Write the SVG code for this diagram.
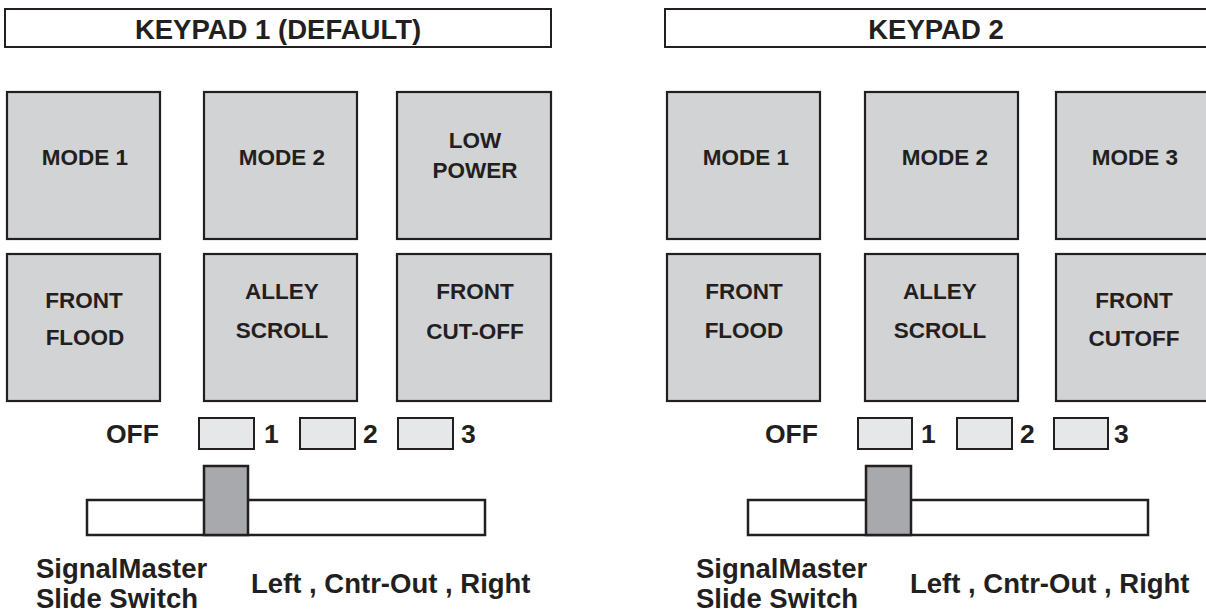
<svg xmlns="http://www.w3.org/2000/svg" width="1206" height="612" viewBox="0 0 1206 612">
<style>
.hdr{fill:#fff;stroke:#231f20;stroke-width:2}
.key{fill:#d1d3d4;stroke:#231f20;stroke-width:2.2}
.ind{fill:#e6e7e8;stroke:#231f20;stroke-width:2}
.bar{fill:#fff;stroke:#231f20;stroke-width:2.5}
.knob{fill:#a7a9ac;stroke:#231f20;stroke-width:2.5}
text{font-family:"Liberation Sans",Arial,sans-serif;font-weight:bold;fill:#231f20}
.kt{font-size:22.5px;text-anchor:middle}
.ht{font-size:27.5px;text-anchor:middle}
.lt{font-size:26.5px}
.st{font-size:27.5px}
</style>
<g id="keypad1">
<g id="k1-header"><rect class="hdr" x="5" y="9" width="546" height="38"/><text class="ht" x="278" y="39">KEYPAD 1 (DEFAULT)</text></g>
<g id="k1-mode1"><rect class="key" x="7" y="92" width="153" height="147"/><text class="kt" x="85" y="165">MODE 1</text></g>
<g id="k1-mode2"><rect class="key" x="204" y="92" width="153" height="147"/><text class="kt" x="282" y="165">MODE 2</text></g>
<g id="k1-lowpower"><rect class="key" x="397" y="92" width="154" height="147"/><text class="kt" x="475" y="148">LOW</text><text class="kt" x="475" y="178">POWER</text></g>
<g id="k1-frontflood"><rect class="key" x="7" y="254" width="153" height="147"/><text class="kt" x="84" y="308">FRONT</text><text class="kt" x="85" y="345">FLOOD</text></g>
<g id="k1-alleyscroll"><rect class="key" x="204" y="254" width="153" height="147"/><text class="kt" x="282" y="299">ALLEY</text><text class="kt" x="282" y="338">SCROLL</text></g>
<g id="k1-frontcutoff"><rect class="key" x="397" y="254" width="154" height="147"/><text class="kt" x="475" y="299">FRONT</text><text class="kt" x="475" y="339">CUT-OFF</text></g>
<g id="k1-switch">
<text class="lt" x="106" y="443">OFF</text>
<rect class="ind" x="199" y="418" width="55" height="31"/><text class="lt" x="264" y="443">1</text>
<rect class="ind" x="300" y="418" width="55" height="31"/><text class="lt" x="363" y="443">2</text>
<rect class="ind" x="398" y="418" width="55" height="31"/><text class="lt" x="461" y="443">3</text>
<rect class="bar" x="87" y="500" width="398" height="35"/>
<rect class="knob" x="204" y="466" width="44" height="69"/>
<text class="st" x="36" y="578">SignalMaster</text>
<text class="st" x="36" y="608">Slide Switch</text>
<text class="st" x="251" y="593">Left , Cntr-Out , Right</text>
</g>
</g>
<g id="keypad2">
<g id="k2-header"><rect class="hdr" x="665" y="9" width="560" height="38"/><text class="ht" x="936" y="39">KEYPAD 2</text></g>
<g id="k2-mode1"><rect class="key" x="667" y="92" width="153" height="147"/><text class="kt" x="746" y="165">MODE 1</text></g>
<g id="k2-mode2"><rect class="key" x="865" y="92" width="153" height="147"/><text class="kt" x="945" y="165">MODE 2</text></g>
<g id="k2-mode3"><rect class="key" x="1056" y="92" width="160" height="147"/><text class="kt" x="1135" y="165">MODE 3</text></g>
<g id="k2-frontflood"><rect class="key" x="667" y="254" width="153" height="147"/><text class="kt" x="744" y="299">FRONT</text><text class="kt" x="744" y="338">FLOOD</text></g>
<g id="k2-alleyscroll"><rect class="key" x="865" y="254" width="153" height="147"/><text class="kt" x="940" y="299">ALLEY</text><text class="kt" x="940" y="338">SCROLL</text></g>
<g id="k2-frontcutoff"><rect class="key" x="1056" y="254" width="160" height="147"/><text class="kt" x="1134" y="308">FRONT</text><text class="kt" x="1134" y="346">CUTOFF</text></g>
<g id="k2-switch">
<text class="lt" x="765" y="443">OFF</text>
<rect class="ind" x="858" y="418" width="54" height="31"/><text class="lt" x="921" y="443">1</text>
<rect class="ind" x="957" y="418" width="55" height="31"/><text class="lt" x="1020" y="443">2</text>
<rect class="ind" x="1054" y="418" width="54" height="31"/><text class="lt" x="1114" y="443">3</text>
<rect class="bar" x="748" y="500" width="400" height="35"/>
<rect class="knob" x="866" y="466" width="45" height="69"/>
<text class="st" x="696" y="578">SignalMaster</text>
<text class="st" x="696" y="608">Slide Switch</text>
<text class="st" x="910" y="593">Left , Cntr-Out , Right</text>
</g>
</g>
</svg>
